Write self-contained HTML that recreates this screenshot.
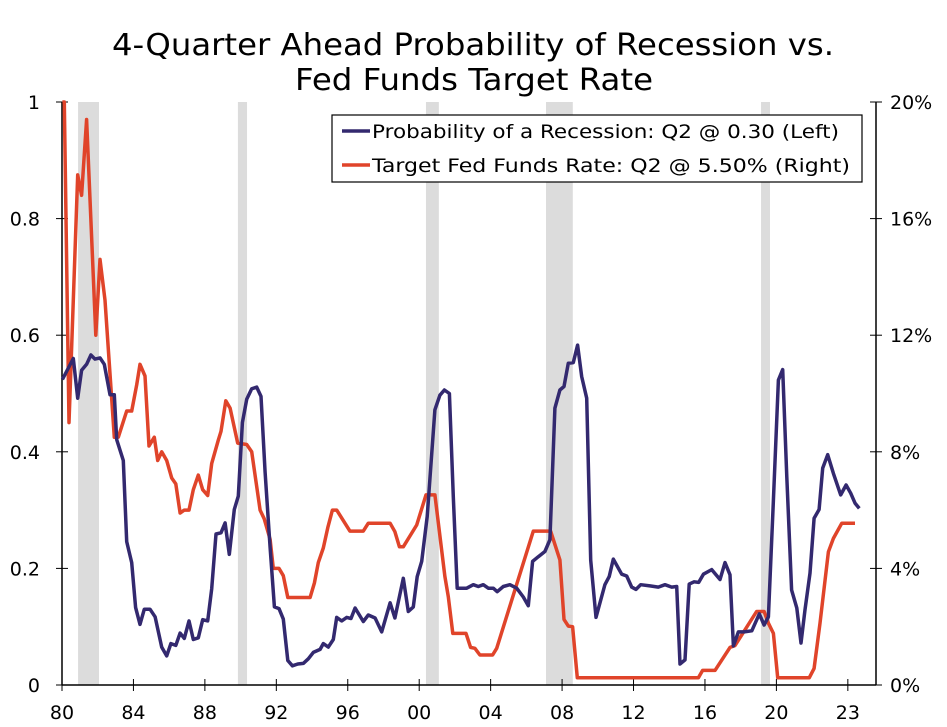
<!DOCTYPE html>
<html><head><meta charset="utf-8">
<style>
html,body{margin:0;padding:0;background:#fff;}
svg{display:block;font-family:"DejaVu Sans","Liberation Sans",sans-serif;}
</style></head>
<body>
<svg id="chart" width="947" height="727" viewBox="0 0 947 727" xmlns="http://www.w3.org/2000/svg">
  <text x="112" y="55" font-size="30" textLength="722" lengthAdjust="spacingAndGlyphs" fill="#000">4-Quarter Ahead Probability of Recession vs.</text>
  <text x="295" y="90" font-size="30" textLength="358" lengthAdjust="spacingAndGlyphs" fill="#000">Fed Funds Target Rate</text>
  <g id="recessions"></g>
  <g id="axes"></g>
  <g id="series"></g>
  <g id="legend">
    <rect x="332" y="115" width="530" height="67" fill="#fff" stroke="#000" stroke-width="1.2"/>
    <line x1="342" y1="131" x2="370" y2="131" stroke="#33296f" stroke-width="3.5"/>
    <text x="372" y="138" font-size="19" textLength="467" lengthAdjust="spacingAndGlyphs">Probability of a Recession: Q2 @ 0.30 (Left)</text>
    <line x1="342" y1="165" x2="370" y2="165" stroke="#e0442a" stroke-width="3.5"/>
    <text x="372" y="172" font-size="19" textLength="478" lengthAdjust="spacingAndGlyphs">Target Fed Funds Rate: Q2 @ 5.50% (Right)</text>
  </g>
</svg>
<script>
const probTimes = [1980.02,1980.63,1980.88,1981.10,1981.38,1981.62,1981.85,1982.13,1982.37,1982.69,1982.93,1983.06,1983.43,1983.62,1983.90,1984.12,1984.37,1984.61,1984.93,1985.21,1985.58,1985.86,1986.10,1986.37,1986.61,1986.85,1987.11,1987.35,1987.63,1987.88,1988.16,1988.38,1988.62,1988.90,1989.13,1989.37,1989.65,1989.87,1990.10,1990.34,1990.62,1990.90,1991.14,1991.37,1991.65,1991.89,1992.15,1992.39,1992.64,1992.90,1993.20,1993.51,1993.79,1994.07,1994.45,1994.63,1994.91,1995.19,1995.38,1995.66,1995.94,1996.18,1996.41,1996.87,1997.15,1997.53,1997.90,1998.37,1998.64,1999.11,1999.39,1999.67,1999.89,2000.14,2000.45,2000.88,2001.16,2001.41,2001.69,2001.91,2002.13,2002.66,2003.03,2003.31,2003.59,2003.87,2004.15,2004.37,2004.71,2005.08,2005.46,2005.83,2006.11,2006.35,2006.67,2007.04,2007.32,2007.60,2007.88,2008.11,2008.35,2008.63,2008.87,2009.10,2009.38,2009.60,2009.90,2010.40,2010.64,2010.87,2011.34,2011.62,2011.90,2012.14,2012.40,2012.92,2013.39,2013.76,2014.14,2014.42,2014.60,2014.88,2015.12,2015.39,2015.65,2015.91,2016.38,2016.84,2017.12,2017.40,2017.59,2017.87,2018.19,2018.62,2019.04,2019.31,2019.55,2019.83,2020.11,2020.35,2020.58,2020.85,2021.14,2021.38,2021.60,2021.88,2022.11,2022.39,2022.59,2022.87,2023.19,2023.60,2023.90,2024.16,2024.40,2024.64];
const probValues = [0.524,0.560,0.492,0.540,0.550,0.566,0.559,0.561,0.550,0.498,0.498,0.421,0.385,0.246,0.210,0.133,0.104,0.130,0.130,0.117,0.065,0.050,0.071,0.068,0.089,0.080,0.110,0.078,0.081,0.112,0.110,0.165,0.259,0.261,0.278,0.224,0.301,0.324,0.450,0.490,0.508,0.511,0.495,0.365,0.236,0.134,0.131,0.113,0.042,0.033,0.036,0.037,0.045,0.056,0.061,0.071,0.065,0.078,0.116,0.110,0.116,0.114,0.132,0.109,0.120,0.115,0.091,0.141,0.115,0.183,0.126,0.134,0.186,0.212,0.289,0.472,0.497,0.506,0.500,0.323,0.166,0.166,0.172,0.169,0.172,0.166,0.166,0.160,0.169,0.172,0.166,0.151,0.136,0.212,0.220,0.229,0.249,0.475,0.506,0.512,0.552,0.553,0.583,0.529,0.492,0.214,0.116,0.172,0.186,0.216,0.190,0.187,0.168,0.164,0.172,0.170,0.168,0.172,0.168,0.169,0.036,0.043,0.173,0.177,0.176,0.190,0.198,0.181,0.210,0.189,0.067,0.091,0.091,0.093,0.122,0.103,0.117,0.317,0.523,0.541,0.357,0.163,0.132,0.072,0.129,0.192,0.286,0.301,0.372,0.395,0.363,0.326,0.343,0.329,0.312,0.303];
const rateTimes = [1980.02,1980.13,1980.39,1980.88,1981.10,1981.38,1981.89,1982.13,1982.41,1982.93,1983.15,1983.62,1983.90,1984.18,1984.37,1984.65,1984.87,1985.17,1985.36,1985.58,1985.86,1986.14,1986.37,1986.61,1986.85,1987.11,1987.35,1987.63,1987.88,1988.16,1988.38,1988.75,1988.90,1989.17,1989.41,1989.84,1990.34,1990.62,1991.09,1991.32,1991.65,1991.83,1992.15,1992.39,1992.64,1993.89,1994.13,1994.35,1994.63,1994.88,1995.14,1995.38,1996.12,1996.87,1997.15,1998.37,1998.64,1998.89,1999.11,1999.86,2000.38,2000.88,2001.44,2001.63,2001.88,2002.62,2002.88,2003.12,2003.40,2004.11,2004.34,2006.39,2007.36,2007.88,2008.11,2008.35,2008.59,2008.85,2015.63,2015.87,2016.56,2017.40,2017.68,2018.89,2019.31,2019.55,2019.83,2020.07,2021.84,2022.11,2022.44,2022.91,2023.19,2023.66,2024.40];
const rateValues = [20.0,20.0,9.0,17.5,16.8,19.4,12.0,14.6,13.2,8.5,8.5,9.4,9.4,10.3,11.0,10.6,8.2,8.5,7.7,8.0,7.7,7.1,6.9,5.9,6.0,6.0,6.7,7.2,6.7,6.5,7.6,8.4,8.7,9.75,9.5,8.3,8.25,8.0,6.0,5.7,5.0,4.0,4.0,3.75,3.0,3.0,3.5,4.2,4.7,5.4,6.0,6.0,5.28,5.28,5.55,5.55,5.26,4.74,4.74,5.49,6.52,6.52,3.72,3.03,1.77,1.77,1.29,1.26,1.03,1.03,1.26,5.28,5.28,4.29,2.25,2.02,2.0,0.25,0.25,0.5,0.5,1.29,1.35,2.52,2.52,2.12,1.77,0.25,0.25,0.57,2.12,4.57,5.03,5.55,5.55];
const recessionStarts = [1980.9,1989.85,2000.38,2007.1,2019.14];
const recessionEnds = [1982.07,1990.36,2001.1,2008.6,2019.64];
const xTickTimes = [1980,1984,1988,1992,1996,2000,2004,2008,2012,2016,2020,2024];
const xTickLabels = ["80","84","88","92","96","00","04","08","12","16","20","23"];
const leftTicks = [0,0.2,0.4,0.6,0.8,1];
const leftTickLabels = ["0","0.2","0.4","0.6","0.8","1"];
const rightTicks = [0,4,8,12,16,20];
const rightTickLabels = ["0%","4%","8%","12%","16%","20%"];

const NS = "http://www.w3.org/2000/svg";
const PL = 62, PR = 876, PT = 102, PB = 685;
function xs(t){ return PL + (t - 1980) * 17.86; }
function yl(v){ return PB - v * (PB - PT); }
function yr(v){ return PB - v / 20 * (PB - PT); }
function mk(tag, attrs, parent){ const e = document.createElementNS(NS, tag); for (const k in attrs) e.setAttribute(k, attrs[k]); parent.appendChild(e); return e; }

const rec = document.getElementById('recessions');
for (let i = 0; i < recessionStarts.length; i++) {
  const r = mk('rect', {x: xs(recessionStarts[i]), y: PT, width: xs(recessionEnds[i]) - xs(recessionStarts[i]), height: PB - PT, fill: '#dcdcdc'}, rec);
  
  
}

const ax = document.getElementById('axes');
let a = mk('line', {x1: PL, y1: PT, x2: PL, y2: PB, stroke: '#000', 'stroke-width': 1.5}, ax);


a = mk('line', {x1: PR, y1: PT, x2: PR, y2: PB, stroke: '#000', 'stroke-width': 1.5}, ax);


a = mk('line', {x1: PL, y1: PB, x2: PR, y2: PB, stroke: '#000', 'stroke-width': 1.5}, ax);



for (let i = 0; i < leftTicks.length; i++) {
  const y = yl(leftTicks[i]);
  const t = mk('line', {x1: PL - 6, y1: y, x2: PL + 6, y2: y, stroke: '#000', 'stroke-width': 1}, ax);
  
  
  const l = mk('text', {x: 40, y: y + 7, 'font-size': 19, 'text-anchor': 'end'}, ax);
  l.textContent = leftTickLabels[i];
  
  
}
for (let i = 0; i < rightTicks.length; i++) {
  const y = yr(rightTicks[i]);
  const t = mk('line', {x1: PR - 6, y1: y, x2: PR + 6, y2: y, stroke: '#000', 'stroke-width': 1}, ax);
  
  
  const l = mk('text', {x: 890, y: y + 7, 'font-size': 19, 'text-anchor': 'start'}, ax);
  l.textContent = rightTickLabels[i];
  
  
}
for (let i = 0; i < xTickTimes.length; i++) {
  const x = xs(xTickTimes[i]);
  const t = mk('line', {x1: x, y1: PB - 6, x2: x, y2: PB + 6, stroke: '#000', 'stroke-width': 1}, ax);
  
  
  const l = mk('text', {x: x, y: 719, 'font-size': 19, 'text-anchor': 'middle'}, ax);
  l.textContent = xTickLabels[i];
  
  
}

const ser = document.getElementById('series');
function pathFrom(ts, vs, yf){ return ts.map((t, i) => (i ? 'L' : 'M') + xs(t).toFixed(1) + ',' + yf(vs[i]).toFixed(1)).join(' '); }
const rl = mk('path', {d: pathFrom(rateTimes, rateValues, yr), fill: 'none', stroke: '#e0442a', 'stroke-width': 3.5, 'stroke-linejoin': 'round'}, ser);


const pl = mk('path', {d: pathFrom(probTimes, probValues, yl), fill: 'none', stroke: '#33296f', 'stroke-width': 3.5, 'stroke-linejoin': 'round'}, ser);


</script>
</body></html>
